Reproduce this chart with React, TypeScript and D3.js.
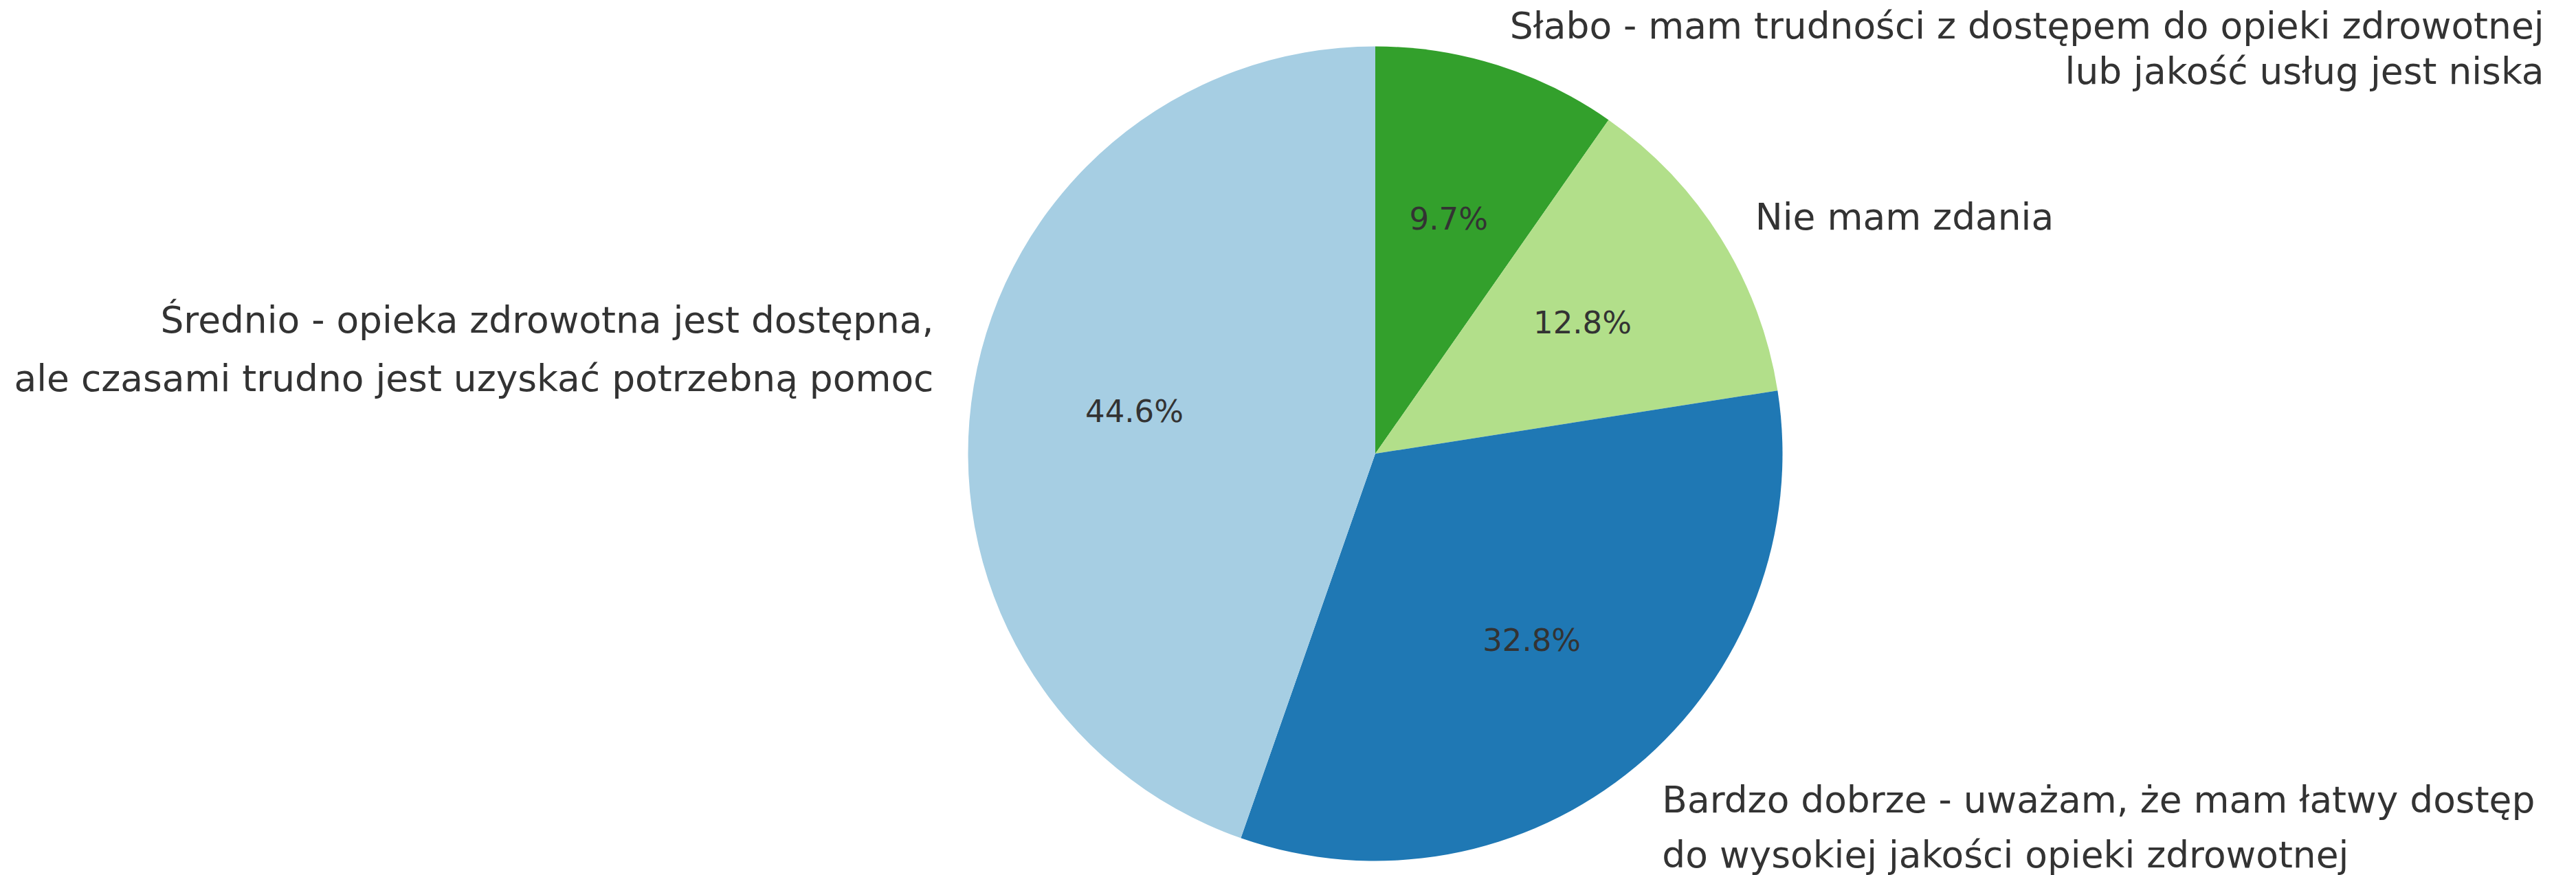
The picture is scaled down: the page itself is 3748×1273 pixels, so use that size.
import React, { useEffect, useRef } from "react";
import * as d3 from "d3";

const categories = [
  "Słabo - mam trudności z dostępem do opieki zdrowotnej\nlub jakość usług jest niska",
  "Nie mam zdania",
  "Bardzo dobrze - uważam, że mam łatwy dostęp\ndo wysokiej jakości opieki zdrowotnej",
  "Średnio - opieka zdrowotna jest dostępna,\nale czasami trudno jest uzyskać potrzebną pomoc",
];
const values = [9.7, 12.8, 32.8, 44.6];
const colors = ["#33a02c", "#b2df8a", "#1f78b4", "#a6cee3"];

// per-label line baseline offsets relative to the label anchor (styling)
const lineOffsets = [[18, 84], [19], [21, 101], [-67, 18]];

const W = 3748;
const H = 1273;
const CX = 2001;
const CY = 660;
const R = 592.5;
const LABEL_FS = 53.4;
const PCT_FS = 45;
const FONT = "'DejaVu Sans', sans-serif";
const TEXT_COLOR = "#333333";

export default function App() {
  const ref = useRef<SVGSVGElement>(null);

  useEffect(() => {
    document.body.style.margin = "0";
    const svg = d3.select(ref.current);
    svg.selectAll("*").remove();
    const g = svg.append("g").attr("transform", `translate(${CX},${CY})`);

    const pie = d3.pie<number>().sort(null).value((d) => d).startAngle(0).endAngle(2 * Math.PI);
    const arcs = pie(values);
    const arc = d3.arc<d3.PieArcDatum<number>>().innerRadius(0).outerRadius(R);

    g.selectAll("path.slice")
      .data(arcs)
      .enter()
      .append("path")
      .attr("class", "slice")
      .attr("d", arc)
      .attr("fill", (_, i) => colors[i]);

    const total = d3.sum(values);

    // percentage labels at 0.6 R
    arcs.forEach((a, i) => {
      const mid = (a.startAngle + a.endAngle) / 2;
      const x = Math.sin(mid) * R * 0.6;
      const y = -Math.cos(mid) * R * 0.6;
      g.append("text")
        .attr("x", x)
        .attr("y", y)
        .attr("dy", "0.3em")
        .attr("text-anchor", "middle")
        .attr("font-family", FONT)
        .attr("font-size", PCT_FS)
        .attr("fill", TEXT_COLOR)
        .text(((values[i] / total) * 100).toFixed(1) + "%");
    });

    // category labels at 1.1 R
    arcs.forEach((a, i) => {
      const mid = (a.startAngle + a.endAngle) / 2;
      const x = Math.sin(mid) * R * 1.1;
      const y = -Math.cos(mid) * R * 1.1;
      const lines = categories[i].split("\n");
      const right = x < 0;
      const texts = lines.map((line, j) =>
        g
          .append("text")
          .attr("x", x)
          .attr("y", y + lineOffsets[i][j])
          .attr("text-anchor", right ? "end" : "start")
          .attr("font-family", FONT)
          .attr("font-size", LABEL_FS)
          .attr("fill", TEXT_COLOR)
          .text(line)
      );
      // first label: lines right-aligned inside a left-anchored block
      if (i === 0 && texts.length > 1) {
        const widths = texts.map((t) => (t.node() as SVGTextElement).getComputedTextLength());
        const maxW = Math.max(...widths);
        texts.forEach((t) => {
          t.attr("text-anchor", "end").attr("x", x + maxW);
        });
      }
    });
  }, []);

  return (
    <svg
      ref={ref}
      width={W}
      height={H}
      viewBox={`0 0 ${W} ${H}`}
      style={{ display: "block", background: "#ffffff" }}
    />
  );
}
